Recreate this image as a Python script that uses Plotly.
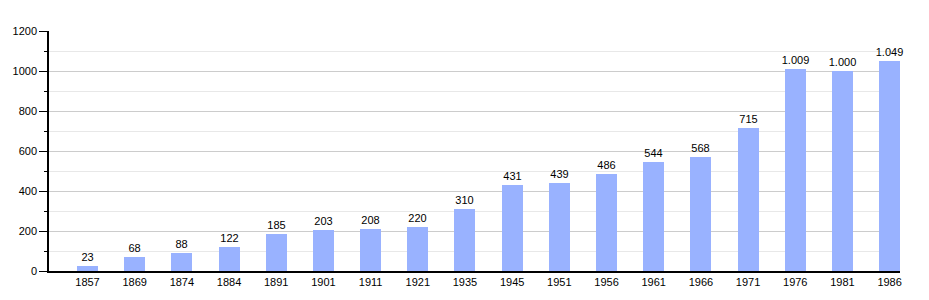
import plotly.graph_objects as go

years = ["1857", "1869", "1874", "1884", "1891", "1901", "1911", "1921", "1935",
         "1945", "1951", "1956", "1961", "1966", "1971", "1976", "1981", "1986"]
population = [23, 68, 88, 122, 185, 203, 208, 220, 310, 431, 439, 486, 544, 568,
              715, 1009, 1000, 1049]
labels = [f"{v:,}".replace(",", ".") for v in population]

x = list(range(len(years)))

fig = go.Figure()
fig.add_trace(go.Bar(
    x=x, y=population, width=0.445,
    marker=dict(color="#99b2ff", line=dict(width=0)),
    text=labels, textposition="outside", cliponaxis=False,
    textfont=dict(family="Liberation Sans, Arial, sans-serif", size=11, color="#000"),
))

fig.update_layout(
    width=929, height=300,
    margin=dict(l=49, r=29, t=31, b=29),
    paper_bgcolor="white", plot_bgcolor="white",
    showlegend=False,
    font=dict(family="Liberation Sans, Arial, sans-serif", size=11, color="#000"),
    bargap=0,
    uniformtext=dict(minsize=11, mode="show"),
)
fig.update_xaxes(
    range=[-0.816, 17.22],
    tickmode="array", tickvals=x, ticktext=years,
    showline=True, linecolor="#000", linewidth=1.5,
    ticks="", showgrid=False, zeroline=False,
    tickfont=dict(size=11),
)
fig.update_yaxes(
    range=[0, 1200], dtick=200, tick0=0,
    showline=True, linecolor="#000", linewidth=1.5,
    ticks="outside", ticklen=8, tickcolor="#000", tickwidth=1,
    showgrid=True, gridcolor="#cccccc", gridwidth=1,
    zeroline=False,
    minor=dict(dtick=100, ticks="outside", ticklen=3, tickcolor="#000",
               showgrid=True, gridcolor="#e8e8e8", gridwidth=1),
    tickfont=dict(size=11),
)

fig.write_html("out.html")
